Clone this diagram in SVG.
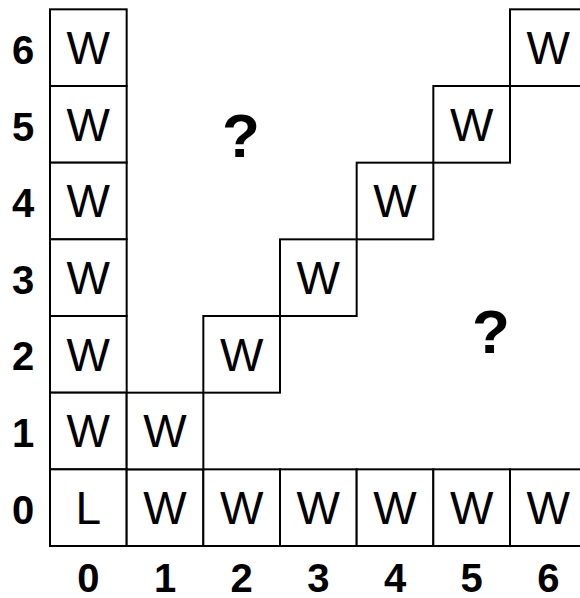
<svg xmlns="http://www.w3.org/2000/svg" width="580" height="598" viewBox="0 0 580 598">
<style>
.c rect{fill:#fff;stroke:#000;stroke-width:2}
.c text{font-family:"Liberation Sans",Arial,sans-serif;font-size:46px;text-anchor:middle;fill:#000}
.lab{font-family:"Liberation Sans",Arial,sans-serif;font-size:40px;font-weight:bold;text-anchor:middle;fill:#000}
.q{font-family:"Liberation Sans",Arial,sans-serif;font-size:62px;font-weight:bold;text-anchor:middle;fill:#000}
</style>
<rect width="580" height="598" fill="#fff"/>
<g id="cells" class="c">
<g id="c0r6"><rect x="50" y="9.33" width="76.67" height="76.67"/><text x="88.3" y="64">W</text></g>
<g id="c0r5"><rect x="50" y="86" width="76.67" height="76.67"/><text x="88.3" y="140.7">W</text></g>
<g id="c0r4"><rect x="50" y="162.67" width="76.67" height="76.67"/><text x="88.3" y="217.3">W</text></g>
<g id="c0r3"><rect x="50" y="239.33" width="76.67" height="76.67"/><text x="88.3" y="294">W</text></g>
<g id="c0r2"><rect x="50" y="316" width="76.67" height="76.67"/><text x="88.3" y="370.7">W</text></g>
<g id="c0r1"><rect x="50" y="392.67" width="76.67" height="76.67"/><text x="88.3" y="447.3">W</text></g>
<g id="c0r0"><rect x="50" y="469.33" width="76.67" height="76.67"/><text x="88.3" y="524">L</text></g>
<g id="c1r0"><rect x="126.67" y="469.33" width="76.67" height="76.67"/><text x="165" y="524">W</text></g>
<g id="c2r0"><rect x="203.33" y="469.33" width="76.67" height="76.67"/><text x="241.7" y="524">W</text></g>
<g id="c3r0"><rect x="280" y="469.33" width="76.67" height="76.67"/><text x="318.3" y="524">W</text></g>
<g id="c4r0"><rect x="356.67" y="469.33" width="76.67" height="76.67"/><text x="395" y="524">W</text></g>
<g id="c5r0"><rect x="433.33" y="469.33" width="76.67" height="76.67"/><text x="471.7" y="524">W</text></g>
<g id="c6r0"><rect x="510" y="469.33" width="76.67" height="76.67"/><text x="548.3" y="524">W</text></g>
<g id="c1r1"><rect x="126.67" y="392.67" width="76.67" height="76.67"/><text x="165" y="447.3">W</text></g>
<g id="c2r2"><rect x="203.33" y="316" width="76.67" height="76.67"/><text x="241.7" y="370.7">W</text></g>
<g id="c3r3"><rect x="280" y="239.33" width="76.67" height="76.67"/><text x="318.3" y="294">W</text></g>
<g id="c4r4"><rect x="356.67" y="162.67" width="76.67" height="76.67"/><text x="395" y="217.3">W</text></g>
<g id="c5r5"><rect x="433.33" y="86" width="76.67" height="76.67"/><text x="471.7" y="140.7">W</text></g>
<g id="c6r6"><rect x="510" y="9.33" width="76.67" height="76.67"/><text x="548.3" y="64">W</text></g>
</g>
<g id="rowlabels">
<text class="lab" x="23" y="63.5">6</text>
<text class="lab" x="23" y="140.5">5</text>
<text class="lab" x="23" y="217">4</text>
<text class="lab" x="23" y="293.7">3</text>
<text class="lab" x="23" y="370.3">2</text>
<text class="lab" x="23" y="447">1</text>
<text class="lab" x="23" y="524">0</text>
</g>
<g id="collabels">
<text class="lab" x="88.3" y="592">0</text>
<text class="lab" x="165" y="592">1</text>
<text class="lab" x="241.7" y="592">2</text>
<text class="lab" x="318.3" y="592">3</text>
<text class="lab" x="395" y="592">4</text>
<text class="lab" x="471.7" y="592">5</text>
<text class="lab" x="548.3" y="592">6</text>
</g>
<g id="questions">
<text class="q" x="241" y="157">?</text>
<text class="q" x="491" y="353">?</text>
</g>
</svg>
